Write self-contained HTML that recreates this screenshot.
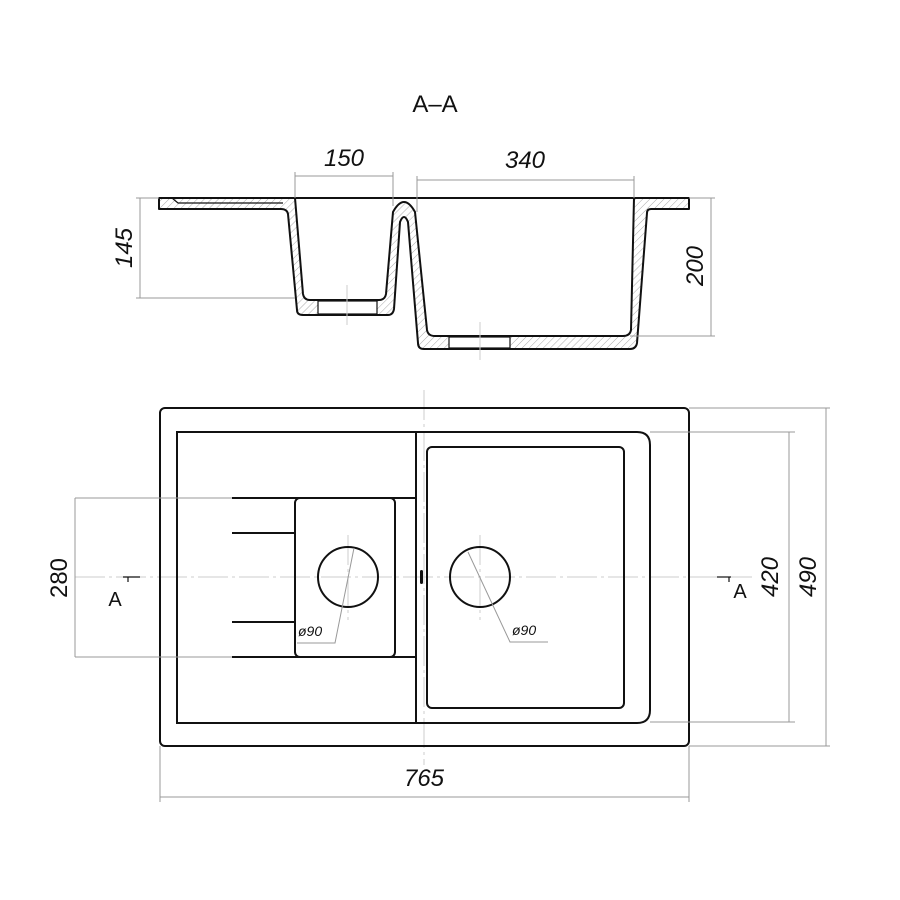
<!DOCTYPE html>
<html><head><meta charset="utf-8"><style>
html,body{margin:0;padding:0;background:#fff}
svg{display:block}
text{font-family:"Liberation Sans Narrow","Liberation Sans",sans-serif;fill:#111}
</style></head><body>
<svg width="900" height="900" viewBox="0 0 900 900" xmlns="http://www.w3.org/2000/svg">
<defs>
<pattern id="h" width="5" height="5" patternUnits="userSpaceOnUse" patternTransform="rotate(45)">
<rect width="5" height="5" fill="#fff"/><line x1="0" y1="0" x2="0" y2="5" stroke="#aaa" stroke-width="1"/>
</pattern>
</defs>
<text x="435" y="112" font-size="24" text-anchor="middle">A–A</text>

<!-- section -->
<g stroke="#111" stroke-width="2" stroke-linejoin="round">
<path fill="url(#h)" d="M159,198 L295,198 L303,294 Q304,300 310,300 L379,300 Q385,300 386,294 L393,212 Q404,192 415,212 L427,330 Q428,336 435,336 L623,336 Q630,336 631,330 L634,198 L689,198 L689,209 L651,209 Q647,209 647,213 L637,343 Q636,349 630,349 L424,349 Q418,349 418,343 L408,222 Q404,212 400,222 L394,309 Q393,315 388,315 L303,315 Q297,315 297,310 L288,214 Q287,209 281,209 L159,209 Z"/>
<line x1="159" y1="198" x2="689" y2="198"/>
</g>
<path d="M172,198 L178,203 L283,203" fill="none" stroke="#111" stroke-width="1.2"/>
<rect x="318" y="301" width="59" height="13" fill="#fff" stroke="#111" stroke-width="1.2"/>
<rect x="449" y="337" width="61" height="11" fill="#fff" stroke="#111" stroke-width="1.2"/>
<line x1="347" y1="285" x2="347" y2="325" stroke="#ccc"/>
<line x1="480" y1="322" x2="480" y2="360" stroke="#ccc"/>

<g stroke="#999" stroke-width="1" fill="none">
<line x1="295" y1="172" x2="295" y2="198"/><line x1="393" y1="172" x2="393" y2="206"/>
<line x1="295" y1="176" x2="393" y2="176"/>
<line x1="417" y1="176" x2="417" y2="212"/><line x1="634" y1="176" x2="634" y2="198"/>
<line x1="417" y1="180" x2="634" y2="180"/>
<line x1="136" y1="198" x2="159" y2="198"/><line x1="136" y1="298" x2="295" y2="298"/>
<line x1="140" y1="198" x2="140" y2="298"/>
<line x1="689" y1="198" x2="715" y2="198"/><line x1="630" y1="336" x2="715" y2="336"/>
<line x1="711" y1="198" x2="711" y2="336"/>
</g>
<text x="344" y="166" font-size="24" text-anchor="middle" font-style="italic">150</text>
<text x="525" y="168" font-size="24" text-anchor="middle" font-style="italic">340</text>
<text transform="translate(132,248) rotate(-90)" font-size="24" text-anchor="middle" font-style="italic">145</text>
<text transform="translate(703,266) rotate(-90)" font-size="24" text-anchor="middle" font-style="italic">200</text>

<!-- plan centerlines -->
<g stroke="#ccc" stroke-width="1" stroke-dasharray="30,4,3,4" fill="none">
<line x1="75" y1="577" x2="752" y2="577"/>
<line x1="424" y1="390" x2="424" y2="765"/>
<line x1="348" y1="535" x2="348" y2="620"/>
<line x1="480" y1="535" x2="480" y2="620"/>
</g>

<!-- plan -->
<g stroke="#111" stroke-width="2" fill="none">
<rect x="160" y="408" width="529" height="338" rx="5"/>
<path d="M177,432 L637,432 Q650,432 650,445 L650,710 Q650,723 637,723 L177,723 Z"/>
<line x1="416" y1="432" x2="416" y2="723"/>
<rect x="427" y="447" width="197" height="261" rx="5"/>
<rect x="295" y="498" width="100" height="159" rx="5"/>
<line x1="232" y1="498" x2="416" y2="498"/>
<line x1="232" y1="657" x2="416" y2="657"/>
<line x1="232" y1="533" x2="295" y2="533"/>
<line x1="232" y1="622" x2="295" y2="622"/>
<circle cx="348" cy="577" r="30"/>
<circle cx="480" cy="577" r="30"/>
</g>
<rect x="420" y="570" width="3" height="14" rx="1.5" fill="#111"/>

<g stroke="#999" stroke-width="1" fill="none">
<path d="M354,548 L335,643 L297,643"/>
<path d="M468,552 L510,642 L548,642"/>
<line x1="75" y1="498" x2="232" y2="498"/><line x1="75" y1="657" x2="232" y2="657"/>
<line x1="75" y1="498" x2="75" y2="657"/>
<line x1="650" y1="432" x2="795" y2="432"/><line x1="650" y1="722" x2="795" y2="722"/>
<line x1="789" y1="432" x2="789" y2="722"/>
<line x1="689" y1="408" x2="830" y2="408"/><line x1="689" y1="746" x2="830" y2="746"/>
<line x1="826" y1="408" x2="826" y2="746"/>
<line x1="160" y1="746" x2="160" y2="802"/><line x1="689" y1="746" x2="689" y2="802"/>
<line x1="160" y1="797" x2="689" y2="797"/>
</g>
<text x="298" y="636" font-size="14" font-style="italic">ø90</text>
<text x="512" y="635" font-size="14" font-style="italic">ø90</text>
<text transform="translate(67,578) rotate(-90)" font-size="24" text-anchor="middle">280</text>
<text transform="translate(778,577) rotate(-90)" font-size="24" text-anchor="middle" font-style="italic">420</text>
<text transform="translate(816,577) rotate(-90)" font-size="24" text-anchor="middle" font-style="italic">490</text>
<text x="424" y="786" font-size="24" text-anchor="middle" font-style="italic">765</text>

<g stroke="#111" stroke-width="1.2">
<line x1="123" y1="577" x2="140" y2="577"/><line x1="128" y1="577" x2="128" y2="582"/>
<line x1="717" y1="577" x2="731" y2="577"/><line x1="729" y1="577" x2="729" y2="582"/>
</g>
<text x="115" y="606" font-size="20" text-anchor="middle">A</text>
<text x="740" y="598" font-size="20" text-anchor="middle">A</text>
</svg>
</body></html>
